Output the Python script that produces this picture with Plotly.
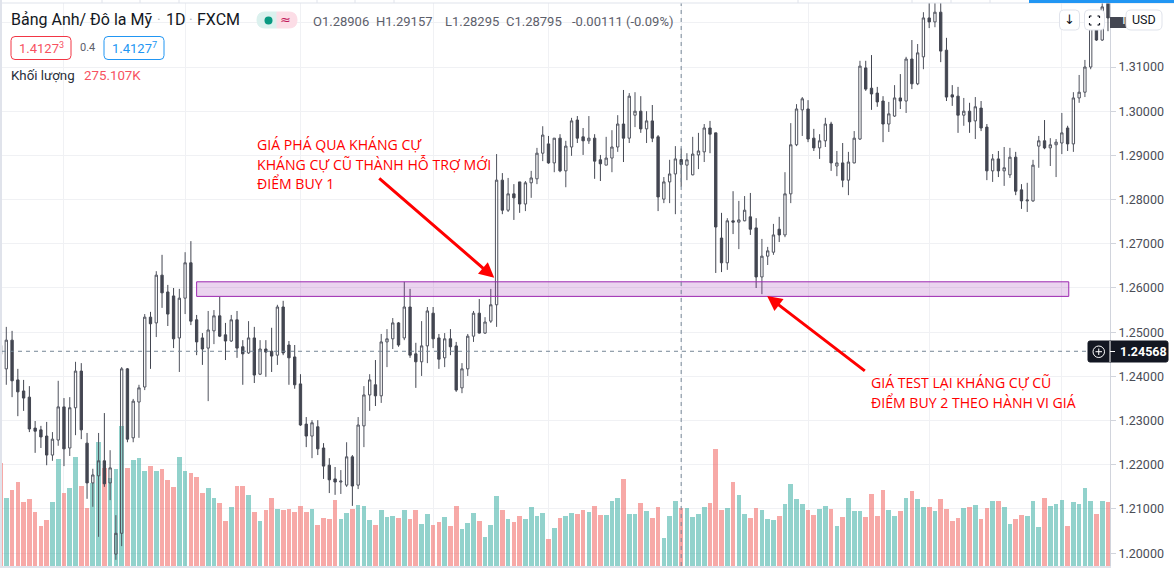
import plotly.graph_objects as go

opens = [1.2470,
 1.2417,1.2482,1.2392,1.2367,1.2353,1.2283,1.2279,1.2265,1.2222,1.2256,
 1.2331,1.2238,1.2329,1.2412,1.2249,1.2159,1.2175,1.2209,1.2159,1.1998,
 1.2045,1.2417,1.2261,1.2342,1.2376,1.2534,1.2521,1.2629,1.2591,1.2582,
 1.2487,1.2577,1.2657,1.2528,1.2487,1.2464,1.2503,1.2537,1.2494,1.2480,
 1.2528,1.2467,1.2453,1.2487,1.2405,1.2462,1.2457,1.2448,1.2557,1.2471,
 1.2444,1.2383,1.2292,1.2265,1.2286,1.2238,1.2199,1.2168,1.2161,1.2154,
 1.2218,1.2154,1.2288,1.2358,1.2381,1.2356,1.2478,1.2485,1.2521,1.2487,
 1.2557,1.2451,1.2433,1.2469,1.2543,1.2487,1.2442,1.2485,1.2469,1.2374,
 1.2417,1.2491,1.2543,1.2498,1.2525,1.2562,1.2844,1.2776,1.2813,1.2840,
 1.2790,1.2838,1.2847,1.2905,1.2926,1.2883,1.2939,1.2865,1.2919,1.2980,
 1.2942,1.2933,1.2939,1.2890,1.2878,1.2894,1.2919,1.2971,1.2939,1.2991,
 1.3000,1.2960,1.2978,1.2942,1.2801,1.2840,1.2858,1.28906,1.2878,1.2856,
 1.2901,1.2908,1.2962,1.2951,1.2713,1.2657,1.2752,1.2749,1.2752,1.2761,
 1.2736,1.2625,1.2672,1.2681,1.2733,1.2720,1.2813,1.2924,1.3003,1.3005,
 1.2939,1.2917,1.2933,1.2971,1.2876,1.2883,1.2844,1.2883,1.2937,1.3098,
 1.3052,1.3041,1.3023,1.2971,1.2989,1.3030,1.3023,1.3118,1.3062,1.3123,
 1.3211,1.3202,1.3224,1.3138,1.3037,1.3034,1.2991,1.3000,1.2978,1.3007,
 1.2964,1.2865,1.2892,1.2865,1.2856,1.2896,1.2822,1.2797,1.2797,1.2921,
 1.2933,1.2917,1.2924,1.2928,1.2962,1.2926,1.3030,1.3043,1.3100,1.3184,1.3161,1.3245]

closes = [1.2450,
 1.2482,1.2390,1.2365,1.2351,1.2281,1.2276,1.2263,1.2222,1.2258,1.2331,
 1.2236,1.2329,1.2412,1.2279,1.2159,1.2177,1.2209,1.2157,1.2193,1.2045,
 1.2417,1.2258,1.2344,1.2374,1.2534,1.2519,1.2629,1.2589,1.2541,1.2485,
 1.2577,1.2657,1.2525,1.2478,1.2462,1.2505,1.2537,1.2491,1.2480,1.2528,
 1.2464,1.2451,1.2487,1.2403,1.2462,1.2455,1.2446,1.2557,1.2453,1.2442,
 1.2381,1.2290,1.2265,1.2295,1.2236,1.2197,1.2166,1.2161,1.2163,1.2218,
 1.2152,1.2290,1.2358,1.2392,1.2356,1.2478,1.2485,1.2521,1.2471,1.2557,
 1.2448,1.2433,1.2469,1.2548,1.2485,1.2439,1.2485,1.2467,1.2369,1.2417,
 1.2491,1.2543,1.2498,1.2523,1.2562,1.2844,1.2776,1.2813,1.2804,1.2790,
 1.2838,1.2849,1.2905,1.2946,1.2883,1.2939,1.2865,1.2921,1.2978,1.2939,
 1.2933,1.2939,1.2887,1.2881,1.2894,1.2919,1.2971,1.2939,1.3034,1.3000,
 1.2960,1.2978,1.2939,1.2806,1.2840,1.2858,1.2892,1.28795,1.2890,1.2903,
 1.2910,1.2962,1.2948,1.2738,1.2657,1.2752,1.2749,1.2754,1.2776,1.2733,
 1.2625,1.2672,1.2684,1.2720,1.2720,1.2813,1.2924,1.3005,1.3028,1.2937,
 1.2917,1.2933,1.2971,1.2883,1.2883,1.2844,1.2885,1.2939,1.3102,1.3050,
 1.3039,1.3021,1.2971,1.2994,1.3030,1.3023,1.3118,1.3062,1.3132,1.3211,
 1.3202,1.3224,1.3136,1.3032,1.3032,1.2991,1.3000,1.2976,1.3010,1.2962,
 1.2865,1.2892,1.2865,1.2872,1.2896,1.2819,1.2797,1.2799,1.2878,1.2933,
 1.2917,1.2924,1.2930,1.2951,1.2926,1.3030,1.3043,1.3100,1.3188,1.3161,1.3236,1.3211]

highs = [1.2500,
 1.2512,1.2503,1.2417,1.2392,1.2378,1.2299,1.2288,1.2297,1.2274,1.2390,
 1.2351,1.2353,1.2433,1.2430,1.2272,1.2191,1.2272,1.2317,1.2233,1.2086,
 1.2421,1.2419,1.2349,1.2381,1.2541,1.2546,1.2638,1.2675,1.2607,1.2600,
 1.2598,1.2681,1.2706,1.2539,1.2498,1.2548,1.2550,1.2580,1.2521,1.2539,
 1.2548,1.2482,1.2525,1.2512,1.2482,1.2482,1.2510,1.2562,1.2571,1.2480,
 1.2471,1.2405,1.2308,1.2301,1.2301,1.2249,1.2215,1.2195,1.2188,1.2251,
 1.2222,1.2308,1.2378,1.2405,1.2437,1.2496,1.2507,1.2532,1.2523,1.2614,
 1.2598,1.2476,1.2525,1.2557,1.2557,1.2496,1.2498,1.2507,1.2478,1.2430,
 1.2496,1.2548,1.2575,1.2534,1.2598,1.2903,1.2860,1.2849,1.2835,1.2840,
 1.2842,1.2865,1.2917,1.2966,1.2944,1.2939,1.2948,1.2933,1.2985,1.2989,
 1.2962,1.2989,1.2948,1.2901,1.2942,1.2957,1.2991,1.3048,1.3041,1.3043,
 1.3034,1.3000,1.3014,1.2946,1.2851,1.2890,1.2921,1.29157,1.2905,1.2942,
 1.2951,1.2971,1.2978,1.2951,1.2770,1.2758,1.2819,1.2797,1.2808,1.2815,
 1.2758,1.2711,1.2693,1.2745,1.2761,1.2862,1.2973,1.3016,1.3032,1.3025,
 1.2960,1.2948,1.2985,1.2976,1.2910,1.2928,1.2908,1.2955,1.3114,1.3114,
 1.3127,1.3055,1.3034,1.3021,1.3059,1.3084,1.3123,1.3161,1.3152,1.3224,
 1.3250,1.3250,1.3250,1.3166,1.3059,1.3055,1.3030,1.3019,1.3032,1.3023,
 1.2971,1.2903,1.2910,1.2919,1.2917,1.2908,1.2835,1.2838,1.2890,1.2944,
 1.2980,1.2939,1.2937,1.2996,1.2967,1.3043,1.3082,1.3116,1.3188,1.3206,1.3250,1.3250]

lows = [1.2420,
 1.2381,1.2353,1.2310,1.2322,1.2274,1.2227,1.2238,1.2199,1.2209,1.2243,
 1.2197,1.2220,1.2267,1.2258,1.2123,1.2105,1.2037,1.2150,1.2120,1.1985,
 1.2016,1.2251,1.2251,1.2261,1.2369,1.2417,1.2489,1.2555,1.2514,1.2464,
 1.2410,1.2541,1.2516,1.2448,1.2426,1.2344,1.2473,1.2489,1.2437,1.2478,
 1.2442,1.2381,1.2451,1.2385,1.2403,1.2399,1.2410,1.2426,1.2448,1.2381,
 1.2372,1.2288,1.2240,1.2215,1.2222,1.2168,1.2136,1.2132,1.2134,1.2150,
 1.2107,1.2145,1.2240,1.2322,1.2333,1.2340,1.2421,1.2462,1.2467,1.2482,
 1.2442,1.2374,1.2401,1.2430,1.2464,1.2417,1.2421,1.2448,1.2365,1.2362,
 1.2401,1.2478,1.2497,1.2496,1.2521,1.2512,1.2767,1.2772,1.2754,1.2770,
 1.2774,1.2804,1.2835,1.2887,1.2881,1.2862,1.2862,1.2828,1.2899,1.2928,
 1.2901,1.2926,1.2847,1.2842,1.2878,1.2862,1.2908,1.2885,1.2928,1.2964,
 1.2951,1.2928,1.2930,1.2774,1.2792,1.2792,1.2767,1.28295,1.2844,1.2855,
 1.2869,1.2885,1.2905,1.2634,1.2636,1.2641,1.2722,1.2688,1.2751,1.2720,
 1.2600,1.2586,1.2652,1.2675,1.2704,1.2715,1.2792,1.2921,1.2944,1.2930,
 1.2910,1.2892,1.2919,1.2865,1.2853,1.2828,1.2810,1.2882,1.2935,1.3046,
 1.3003,1.3010,1.2930,1.2953,1.2987,1.3005,1.2996,1.3050,1.3059,1.3095,
 1.3188,1.3190,1.3111,1.3023,1.3012,1.2951,1.2967,1.2951,1.2937,1.2955,
 1.2844,1.2840,1.2851,1.2831,1.2849,1.2810,1.2779,1.2772,1.2795,1.2872,
 1.2914,1.2876,1.2851,1.2903,1.2910,1.2908,1.3019,1.3032,1.3095,1.3159,1.3159,1.3181]

volumes_k = [486,
 321,359,396,302,316,255,189,217,302,505,
 344,368,514,378,274,392,585,462,415,458,
 661,462,500,510,448,472,448,458,406,373,
 514,448,439,420,344,368,321,297,212,278,
 378,378,335,255,212,264,321,269,264,269,
 255,283,255,269,193,227,222,311,222,250,
 269,288,283,217,193,264,231,236,227,264,
 222,264,198,245,193,208,231,189,283,175,
 203,250,212,137,193,330,264,222,208,236,
 222,278,236,250,127,179,227,236,250,245,
 264,255,283,241,241,307,321,411,245,245,
 297,260,227,278,132,236,307,275.107,274,231,
 245,278,297,552,264,274,396,335,245,227,
 274,264,222,217,236,293,387,316,293,264,
 241,269,283,269,189,231,321,260,260,231,
 340,236,359,264,236,260,321,354,316,278,
 278,260,316,269,212,227,274,278,288,222,
 274,307,307,278,198,222,241,236,307,184,
 321,283,293,311,189,302,293,368,307,245,307,302]

price_ticks = [1.20,1.21,1.22,1.23,1.24,1.25,1.26,1.27,1.28,1.29,1.30,1.31,1.32]
price_labels = ["1.20000","1.21000","1.22000","1.23000","1.24000","1.25000","1.26000",
                "1.27000","1.28000","1.29000","1.30000","1.31000"," "]
month_starts = [11,32,52,75,95,118,140,161,184]
crosshair_bar = 118
crosshair_price = 1.24568
zone_bars = (34, 185.2)
zone_prices = (1.2581, 1.2614)

W, H = 1174, 568
ML, MR, MT, MB = 2, 64, 3, 2
PW, PH = W-ML-MR, H-MT-MB
def X(px): return (px-ML)/PW
def Y(py): return 1-(py-MT)/PH

bars = list(range(len(opens)))
CANDLE = "#434651"
vol_colors = ["rgba(38,166,154,0.5)" if c >= o else "rgba(239,83,80,0.5)" for o, c in zip(opens, closes)]

fig = go.Figure()
fig.add_trace(go.Bar(x=bars, y=volumes_k, marker=dict(color=vol_colors, line_width=0), width=0.81,
                     yaxis="y", hoverinfo="skip", showlegend=False))
fig.add_trace(go.Candlestick(x=bars, open=opens, high=highs, low=lows, close=closes, yaxis="y2",
    increasing=dict(line=dict(color="#50535e", width=1), fillcolor="rgba(0,0,0,0)"),
    decreasing=dict(line=dict(color=CANDLE, width=1), fillcolor=CANDLE),
    whiskerwidth=0, hoverinfo="skip", showlegend=False))

shapes, ann = [], []
def rect(x0,y0,x1,y1,fill,line=None,lw=1):
    shapes.append(dict(type="rect",xref="paper",yref="paper",x0=X(x0),x1=X(x1),y0=Y(y0),y1=Y(y1),
                       fillcolor=fill,line=dict(color=line or fill,width=lw if line else 0),layer="above"))
def rrect(x0,y0,x1,y1,r,fill,line,rl=True,rr=True):
    a,b,c,d=X(x0),X(x1),Y(y0),Y(y1); rx=r/PW; ry=r/PH
    right=(f"L{b-rx},{c} Q{b},{c} {b},{c-ry} L{b},{d+ry} Q{b},{d} {b-rx},{d} " if rr else f"L{b},{c} L{b},{d} ")
    left=(f"L{a+rx},{d} Q{a},{d} {a},{d+ry} L{a},{c-ry} Q{a},{c} {a+rx},{c} " if rl else f"L{a},{d} L{a},{c} ")
    start=f"M{a+rx},{c} " if rl else f"M{a},{c} "
    shapes.append(dict(type="path",xref="paper",yref="paper",path=start+right+left+"Z",fillcolor=fill,
                       line=dict(color=line,width=1),layer="above"))
def seg(x0,y0,x1,y1,color,w=1):
    shapes.append(dict(type="line",xref="paper",yref="paper",x0=X(x0),x1=X(x1),y0=Y(y0),y1=Y(y1),
                       line=dict(color=color,width=w),layer="above"))
def text(px,py,s,size,color,font="Roboto",anchor="left"):
    ann.append(dict(xref="paper",yref="paper",x=X(px),y=Y(py),text=s,showarrow=False,xanchor=anchor,yanchor="middle",
                    font=dict(family=font,size=size,color=color),borderpad=0,borderwidth=0))

# zone and crosshair
shapes.append(dict(type="rect",xref="x",yref="y2",x0=zone_bars[0],x1=zone_bars[1],y0=zone_prices[0],y1=zone_prices[1],
                   fillcolor="rgba(156,39,176,0.2)",line=dict(color="#9c27b0",width=1),layer="above"))
shapes.append(dict(type="line",xref="x",yref="paper",x0=crosshair_bar,x1=crosshair_bar,y0=0,y1=1,
                   line=dict(color="#758696",width=1,dash="4px,4px"),layer="above"))
shapes.append(dict(type="line",xref="paper",yref="y2",x0=0,x1=1,y0=crosshair_price,y1=crosshair_price,
                   line=dict(color="#758696",width=1,dash="4px,4px"),layer="above"))

# chrome
rect(0,0,2,568,"#e0e3eb")
rect(0,2.5,1174,3.5,"#e0e3eb")
for t in [102,140,179,317,355,394,798,912,951,990]:
    seg(t,0,t,3,"#e0e3eb")
rect(1029,0,1174,3,"#2196f3")
# last-price tag, buttons
rect(1110,17,1132,28,CANDLE)
text(1120,20,"1",12.5,"#ffffff")
rrect(1059.5,10,1079.5,30,4,"#ffffff","#e0e3eb")
text(1069.5,20,"↓",13,"#131722","DejaVu Sans","center")
rrect(1084.5,10,1104.5,30,4,"#ffffff","#e0e3eb")
a,b=1089.5,1099.5
for (x0,y0,x1,y1) in [(a,18,a,16),(a,16,1091.5,16),(1097.5,16,b,16),(b,16,b,18),(b,23,b,25),(b,25,1097.5,25),(1091.5,25,a,25),(a,25,a,23)]:
    seg(x0,y0,x1,y1,"#131722",1.2)
rrect(1126,10,1162,30,5,"#ffffff","#e0e3eb")
text(1144,20,"USD",12.5,"#131722","Roboto","center")
# crosshair price tag
rrect(1088,341,1168,362,2,"#131722","#131722")
seg(1110,341,1110,362,"#ffffff",1)
seg(1110,351.5,1115,351.5,"#ffffff",1)
shapes.append(dict(type="circle",xref="paper",yref="paper",x0=X(1093),x1=X(1104.5),y0=Y(346),y1=Y(357.5),
                   line=dict(color="#ffffff",width=1),fillcolor="rgba(0,0,0,0)",layer="above"))
seg(1095.5,351.7,1102,351.7,"#ffffff",1)
seg(1098.75,348.5,1098.75,355,"#ffffff",1)
text(1120,351.5,"<b>1.24568</b>",12.5,"#ffffff")

# header
HC="#131722"
text(11,20,"Bảng Anh/ Đô la Mỹ",16,HC)
text(157,20,"·",14,"#b2b5be")
text(166,20,"1D",16,HC)
text(189,20,"·",14,"#b2b5be")
text(197,20,"FXCM",16,HC)
rrect(257,12,277,28,8,"#dbf1ee","#dbf1ee",rl=True,rr=False)
rrect(277,12,297,28,8,"#fcdde6","#fcdde6",rl=False,rr=True)
shapes.append(dict(type="circle",xref="paper",yref="paper",x0=X(264.5),x1=X(272.5),y0=Y(16.5),y1=Y(24.5),
                   fillcolor="#089981",line=dict(width=0),layer="above"))
text(285.5,20,"≈",13,"#c2185b","DejaVu Sans","center")
for px, s in [(313,"O1.28906"),(376,"H1.29157"),(445,"L1.28295"),(506,"C1.28795"),(572,"-0.00111"),(626,"(-0.09%)")]:
    text(px,21,s,13,"#5d606b")
rrect(11,36.5,71,59.5,4,"#ffffff","#f23645")
text(19,48,"1.4127<sup>3</sup>",13,"#f7525f")
text(80,48,"0.4",11,"#5d606b")
rrect(104,36.5,164,59.5,4,"#ffffff","#2196f3")
text(112,48,"1.4127<sup>7</sup>",13,"#2196f3")
text(11,76,"Khối lượng",13.3,"#2a2e39")
text(84,76,"275.107K",13.3,"#f7525f")

# red notes
RED="#ff0000"; NF="Open Sans"
text(257,144,"GIÁ PHÁ QUA KHÁNG CỰ",14.1,RED,NF)
text(257,164,"KHÁNG CỰ CŨ THÀNH HỖ TRỢ MỚI",14.1,RED,NF)
text(257,183,"ĐIỂM BUY 1",14.1,RED,NF)
text(871,383,"GIÁ TEST LẠI KHÁNG CỰ CŨ",14.1,RED,NF)
text(871,402,"ĐIỂM BUY 2 THEO HÀNH VI GIÁ",14.1,RED,NF)
arrow=dict(showarrow=True,arrowhead=2,arrowsize=1,arrowwidth=3,arrowcolor=RED,text="",
           xref="x",yref="y2",axref="x",ayref="y2")
ann.append(dict(arrow,x=85.6,y=1.2623,ax=65.4,ay=1.2851))
ann.append(dict(arrow,x=132.9,y=1.2582,ax=150.1,ay=1.2410))

fig.update_layout(
    width=W,height=H,margin=dict(l=ML,r=MR,t=MT,b=MB,pad=0),
    paper_bgcolor="#ffffff",plot_bgcolor="#ffffff",showlegend=False,boxgap=0.42,bargap=0,
    xaxis=dict(range=[(ML-0.532)/5.768,(1110-0.532)/5.768],rangeslider=dict(visible=False),tickmode="array",
               tickvals=month_starts,showticklabels=False,ticks="",showgrid=True,gridcolor="#f0f1f4",gridwidth=1,
               zeroline=False,showline=True,linecolor="#e0e3eb",linewidth=2),
    yaxis=dict(range=[0,2657],visible=False,showgrid=False,fixedrange=True),
    yaxis2=dict(overlaying="y",side="right",anchor="x",range=[1.1971,1.32448],tickmode="array",
                tickvals=price_ticks,ticktext=price_labels,showgrid=True,gridcolor="#f0f1f4",gridwidth=1,
                ticks="outside",ticklen=5,tickcolor="#d1d4dc",tickwidth=1,showline=True,linecolor="#d1d4dc",linewidth=1,
                zeroline=False,tickfont=dict(family="Roboto",size=12.5,color="#4a4d57")),
    shapes=shapes,annotations=ann,
)
fig.write_html("out.html",config={"displayModeBar":False},post_script="document.body.style.margin='0';")
